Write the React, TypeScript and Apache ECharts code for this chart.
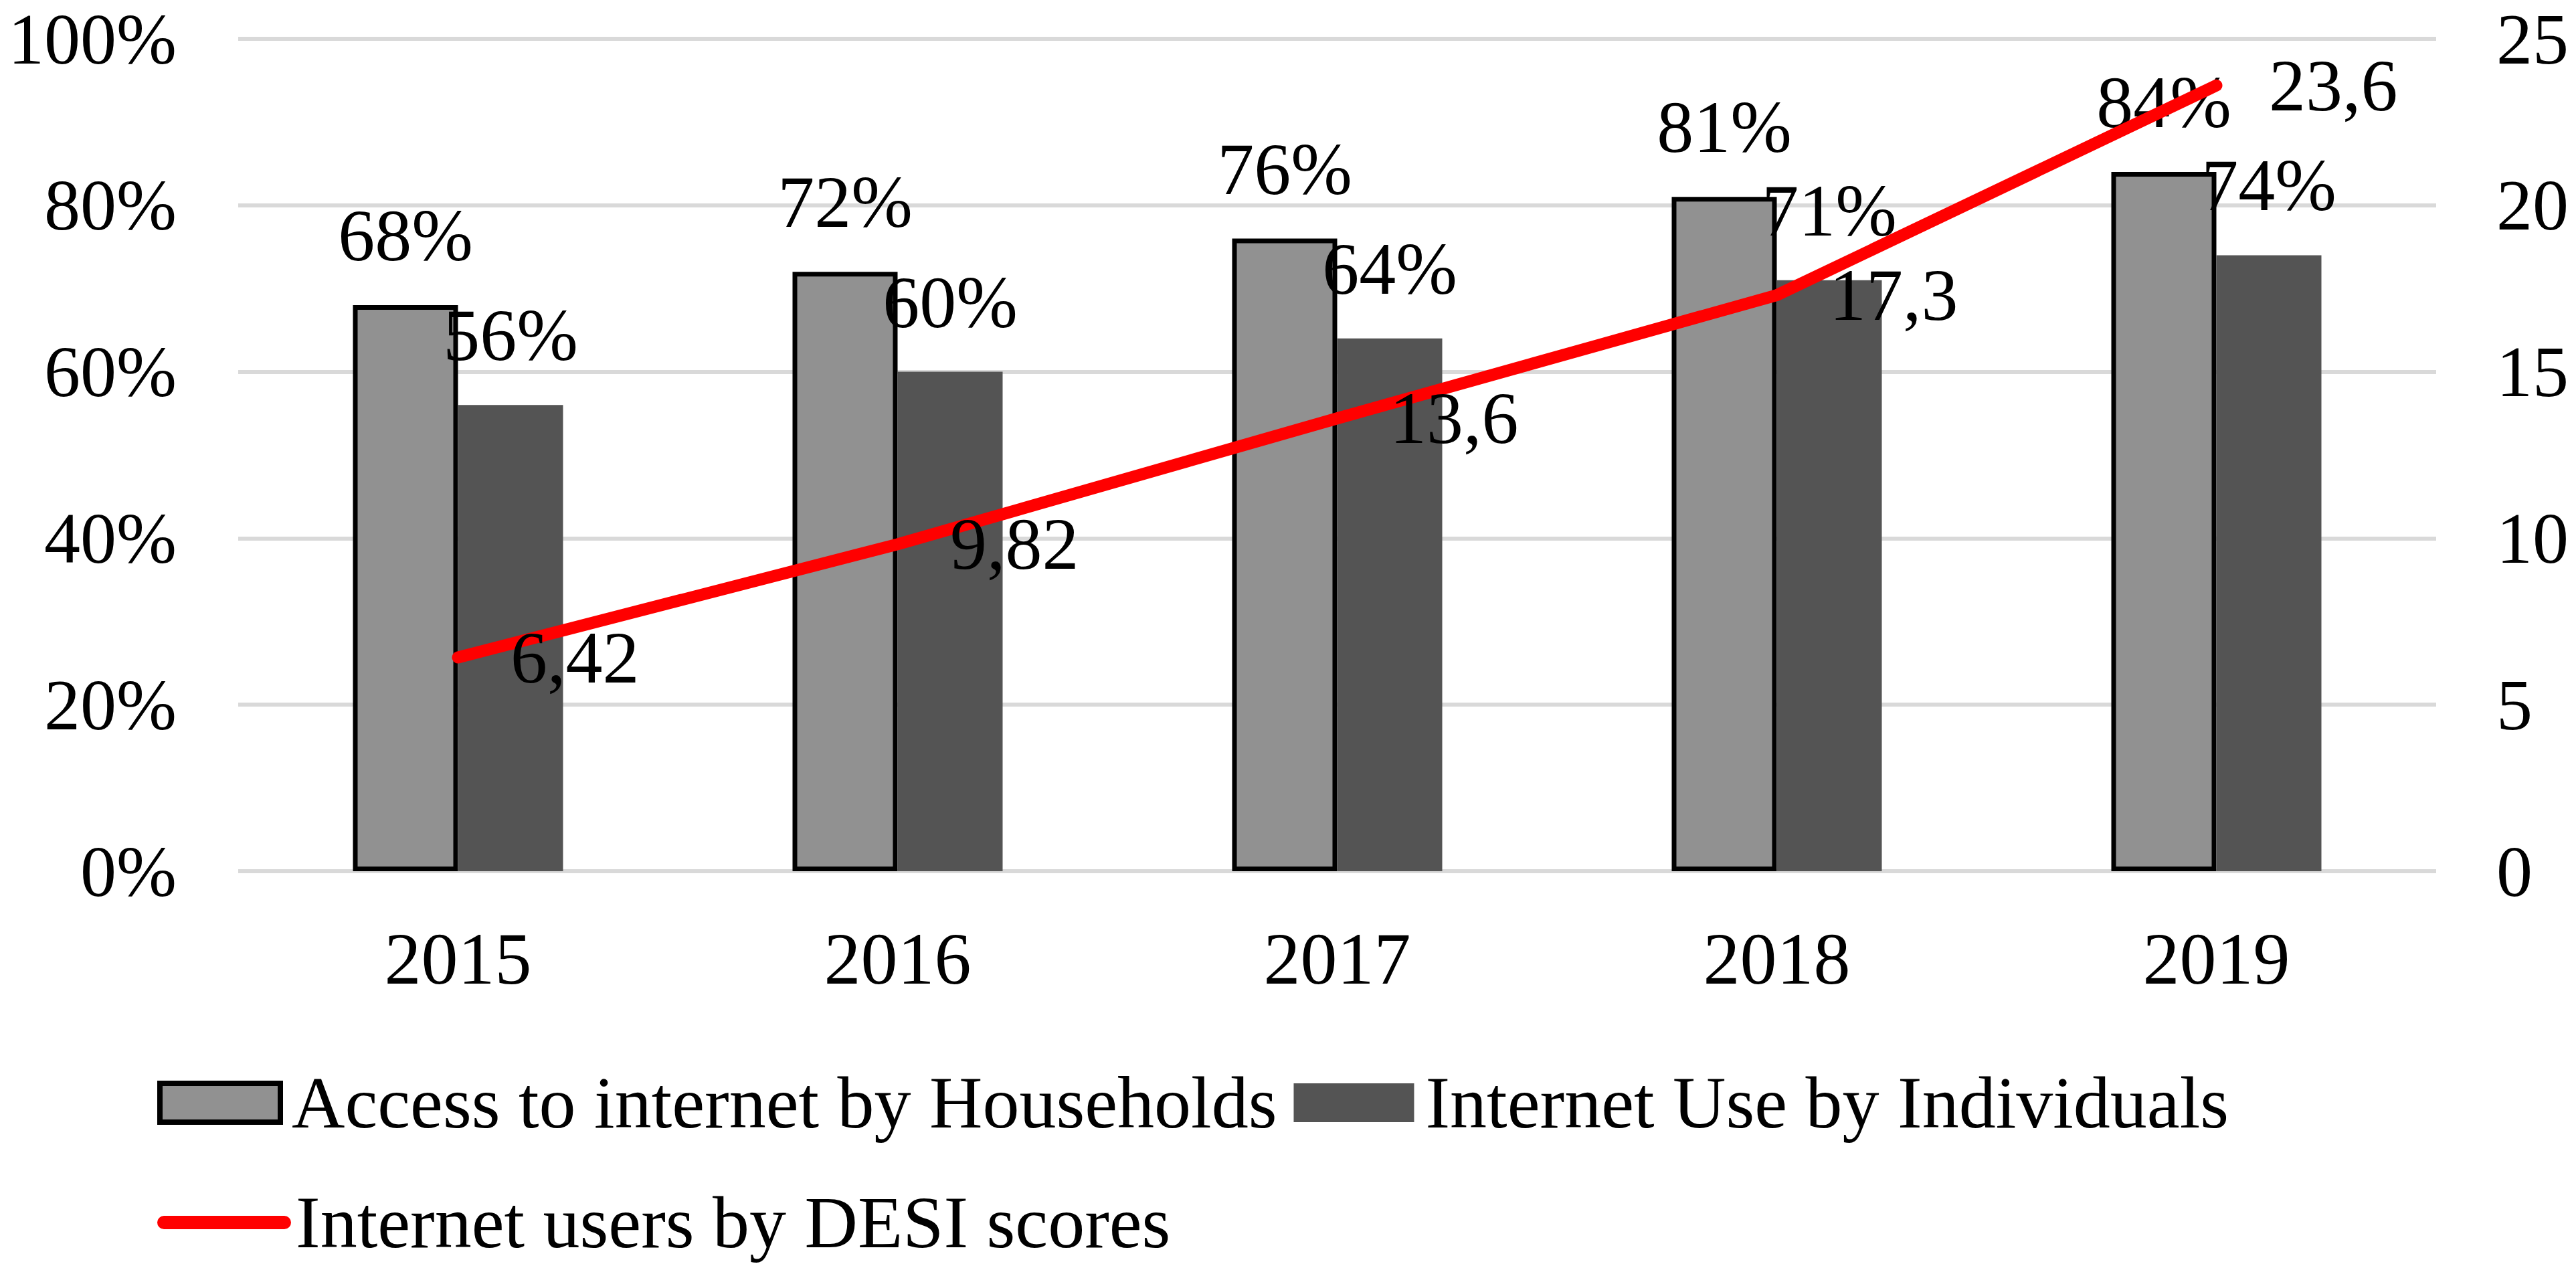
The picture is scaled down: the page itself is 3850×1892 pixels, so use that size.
import React, { useEffect, useRef } from "react";
import * as echarts from "echarts";

const categories = ["2015", "2016", "2017", "2018", "2019"];
const households = [68, 72, 76, 81, 84];
const individuals = [56, 60, 64, 71, 74];
const desiScores = [6.42, 9.82, 13.6, 17.3, 23.6];

const NAME_H = "Access to internet by Households";
const NAME_I = "Internet Use by Individuals";
const NAME_D = "Internet users by DESI scores";

const FONT = "'Liberation Serif', 'Times New Roman', serif";
const FS = 110;

const txt = {
  fontFamily: FONT,
  fontSize: FS,
  lineHeight: FS,
  color: "#000",
};

const axTxt = {
  fontFamily: FONT,
  fontSize: 108,
  lineHeight: 108,
  color: "#000",
};

export default function App() {
  const ref = useRef<HTMLDivElement>(null);

  useEffect(() => {
    document.body.style.margin = "0";
    if (!ref.current) return;
    const chart = echarts.init(ref.current, undefined, { renderer: "svg" });
    chart.setOption({
      animation: false,
      backgroundColor: "#fff",
      grid: { left: 356, right: 209, top: 58, bottom: 590, containLabel: false },
      legend: [
        {
          left: 230,
          top: 1588,
          orient: "horizontal",
          itemWidth: 180,
          itemHeight: 58,
          itemGap: 25,
          data: [
            { name: NAME_H, icon: "rect", itemStyle: { borderColor: "#000", borderWidth: 8 } },
            { name: NAME_I, icon: "rect", itemStyle: { borderWidth: 0 } },
          ],
          textStyle: { ...txt, padding: [0, 0, 0, 12] },
        },
        {
          left: 230,
          top: 1767,
          itemWidth: 180,
          itemHeight: 4,
          data: [{ name: NAME_D }],
          lineStyle: { width: 20, cap: "round" },
          textStyle: { ...txt, padding: [0, 0, 0, 12] },
        },
      ],
      xAxis: {
        type: "category",
        data: categories,
        axisLine: { show: false },
        axisTick: { show: false },
        axisLabel: { ...txt, margin: 76 },
      },
      yAxis: [
        {
          type: "value",
          min: 0,
          max: 100,
          interval: 20,
          axisLine: { show: false },
          axisTick: { show: false },
          axisLabel: { ...axTxt, margin: 92, formatter: "{value}%" },
          splitLine: { show: true, lineStyle: { color: "#d9d9d9", width: 6 } },
        },
        {
          type: "value",
          min: 0,
          max: 25,
          interval: 5,
          axisLine: { show: false },
          axisTick: { show: false },
          axisLabel: { ...axTxt, margin: 90 },
          splitLine: { show: false },
        },
      ],
      series: [
        {
          name: NAME_H,
          type: "bar",
          data: households,
          barWidth: 157,
          barGap: "0%",
          itemStyle: { color: "#919191", borderColor: "#000", borderWidth: 7 },
          label: { show: true, position: "top", distance: 49, formatter: "{c}%", ...txt },
        },
        {
          name: NAME_I,
          type: "bar",
          data: individuals,
          barWidth: 157,
          barGap: "0%",
          itemStyle: { color: "#545454" },
          label: { show: true, position: "top", distance: 49, formatter: "{c}%", ...txt },
        },
        {
          name: NAME_D,
          type: "line",
          yAxisIndex: 1,
          data: desiScores,
          symbol: "circle",
          symbolSize: 1,
          itemStyle: { color: "#ff0000" },
          lineStyle: { color: "#ff0000", width: 18, cap: "round", join: "round" },
          z: 5,
          label: {
            show: true,
            position: "right",
            distance: 78,
            formatter: (p: any) => String(p.value).replace(".", ","),
            ...txt,
          },
        },
      ],
    });
    return () => chart.dispose();
  }, []);

  return <div ref={ref} style={{ width: 3850, height: 1892 }} />;
}
